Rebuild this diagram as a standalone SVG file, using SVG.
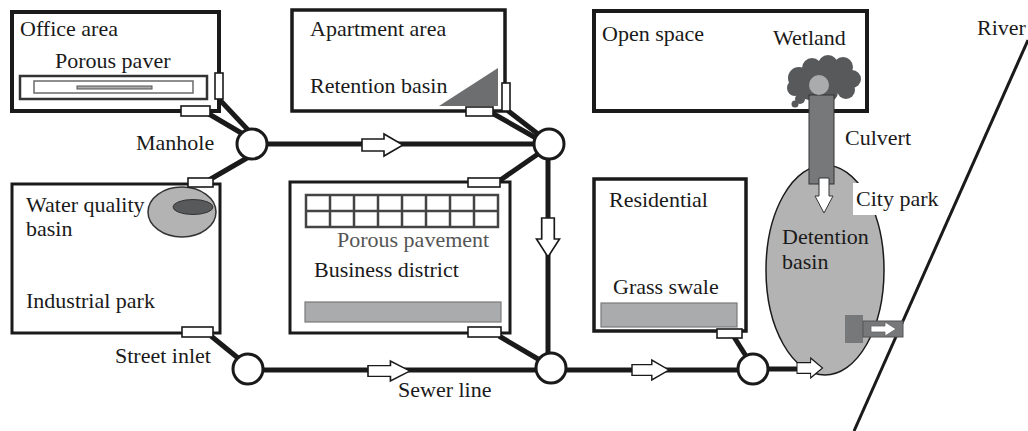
<svg xmlns="http://www.w3.org/2000/svg" width="1028" height="431" viewBox="0 0 1028 431">
  <style>
    text { font-family: "Liberation Serif", "DejaVu Serif", serif; font-size: 22px; fill: #1a1a1a; }
    .area { fill: none; stroke: #1a1a1a; }
    .inlet { fill: #ffffff; stroke: #1a1a1a; stroke-width: 1.6; }
    .pipe { stroke: #1a1a1a; stroke-width: 5; fill: none; stroke-linecap: butt; }
    .node { fill: #ffffff; stroke: #1a1a1a; stroke-width: 3; }
    .flow { fill: #ffffff; stroke: #1a1a1a; stroke-width: 1.6; stroke-linejoin: miter; }
    .pad { fill: #a9abad; stroke: #7a7a7a; stroke-width: 1.2; }
  </style>
  <defs>
    <!-- block arrow pointing right, origin at the tail centre -->
    <path id="flowArrow" d="M0,-6 H22 V-11 L41,0 L22,11 V6 H0 Z"/>
  </defs>
  <rect width="1028" height="431" fill="#ffffff"/>

  <!-- Office area -->
  <g id="office-area">
    <rect class="area" x="12" y="12" width="207" height="99" stroke-width="4"/>
    <text x="20" y="36">Office area</text>
    <text x="55" y="68">Porous paver</text>
    <rect x="20" y="76" width="187" height="23" fill="#ffffff" stroke="#333333" stroke-width="2.5"/>
    <rect x="34" y="81" width="159" height="12" fill="#ffffff" stroke="#6a6a6a" stroke-width="1.5"/>
    <rect x="77" y="86" width="75" height="3" fill="#a9abad" stroke="#555555" stroke-width="1"/>
  </g>

  <!-- Apartment area -->
  <g id="apartment-area">
    <rect class="area" x="292" y="10" width="213" height="101" stroke-width="3.5"/>
    <text x="310" y="36">Apartment area</text>
    <text x="310" y="93">Retention basin</text>
    <polygon points="439,106 498,68 498,106" fill="#6d6e70"/>
  </g>

  <!-- Open space with wetland -->
  <g id="open-space">
    <rect class="area" x="594" y="11" width="273" height="100" stroke-width="4"/>
    <text x="602" y="41">Open space</text>
    <text x="773" y="45">Wetland</text>
  </g>
  <g id="wetland" fill="#58595b">
    <ellipse cx="823" cy="80" rx="30" ry="15"/>
    <circle cx="799" cy="78" r="11"/>
    <circle cx="812" cy="68" r="10"/>
    <circle cx="828" cy="65" r="10"/>
    <circle cx="843" cy="67" r="10"/>
    <circle cx="852" cy="79" r="9"/>
    <circle cx="846" cy="90" r="9"/>
    <circle cx="828" cy="92" r="10"/>
    <circle cx="809" cy="90" r="10"/>
    <circle cx="795" cy="88" r="8"/>
    <circle cx="800" cy="99" r="5"/>
    <circle cx="795" cy="104" r="3.5"/>
  </g>

  <!-- Industrial park with water quality basin -->
  <g id="industrial-park">
    <rect class="area" x="12" y="184" width="208" height="149" stroke-width="3"/>
    <text x="26" y="212">Water quality</text>
    <text x="26" y="236">basin</text>
    <text x="26" y="308">Industrial park</text>
    <ellipse cx="182" cy="212" rx="34" ry="25" fill="#b3b3b3" stroke="#333333" stroke-width="1.5"/>
    <ellipse cx="193" cy="207" rx="20" ry="7.5" fill="#58595b" stroke="#333333" stroke-width="1"/>
  </g>

  <!-- Business district -->
  <g id="business-district">
    <rect class="area" x="290" y="182" width="220" height="151" stroke-width="3"/>
    <g fill="none" stroke="#444444" stroke-width="2.5">
      <rect x="306" y="195" width="192" height="32" fill="#ffffff"/>
      <path d="M306,211 H498 M330,195 V227 M354,195 V227 M378,195 V227 M402,195 V227 M426,195 V227 M450,195 V227 M474,195 V227"/>
    </g>
    <text x="337" y="247" style="fill:#555555">Porous pavement</text>
    <text x="314" y="277">Business district</text>
    <rect class="pad" x="305" y="302" width="196" height="20"/>
  </g>

  <!-- Residential -->
  <g id="residential">
    <rect class="area" x="594" y="179" width="152" height="152" stroke-width="3.5"/>
    <text x="609" y="207">Residential</text>
    <text x="613" y="294">Grass swale</text>
    <rect class="pad" x="601" y="303" width="136" height="24"/>
  </g>

  <!-- River -->
  <g id="river">
    <line x1="1028" y1="40" x2="854" y2="431" stroke="#1a1a1a" stroke-width="3"/>
    <text x="977" y="35">River</text>
  </g>

  <!-- City park with detention basin -->
  <g id="detention-basin">
    <ellipse cx="825" cy="270" rx="59" ry="105" fill="#b3b3b3" stroke="#1a1a1a" stroke-width="1.5"/>
    <rect x="853" y="183" width="88" height="32" fill="#ffffff"/>
    <text x="856" y="206">City park</text>
    <text x="782" y="244">Detention</text>
    <text x="782" y="269">basin</text>
    <rect x="845" y="315" width="18" height="28" fill="#77787a"/>
    <rect x="863" y="321" width="40" height="16" fill="#77787a" stroke="#555555" stroke-width="1"/>
    <path d="M871,326 H885 V322 L896,329 L885,336 V332 H871 Z" fill="#ffffff" stroke="#666666" stroke-width="0.8"/>
  </g>

  <!-- Culvert from the wetland -->
  <g id="culvert">
    <rect x="809" y="95" width="25" height="89" fill="#77787a" stroke="#333333" stroke-width="1"/>
    <ellipse cx="819" cy="85" rx="10" ry="10" fill="#a9abad"/>
    <path d="M819,178 H829 V196 H833 L824,213 L815,196 H819 Z" fill="#ffffff" stroke="#333333" stroke-width="1"/>
    <text x="845" y="145">Culvert</text>
  </g>

  <!-- Sewer connectors -->
  <g id="connectors">
    <path class="pipe" d="M219,99 L249,131"/>
    <path class="pipe" d="M209,114 L243,134"/>
    <path class="pipe" d="M247,158 L209,180"/>
    <path class="pipe" d="M267,144 L534,144"/>
    <path class="pipe" d="M507,110 L538,134"/>
    <path class="pipe" d="M492,113 L536,138"/>
    <path class="pipe" d="M499,181 L538,154"/>
    <path class="pipe" d="M548,159 L548,353"/>
    <path class="pipe" d="M499,336 L538,359"/>
    <path class="pipe" d="M211,336 L238,358"/>
    <path class="pipe" d="M263,370 L536,370"/>
    <path class="pipe" d="M566,370 L738,370"/>
    <path class="pipe" d="M734,337 L746,356"/>
    <path class="pipe" d="M768,369 L798,369"/>

    <use href="#flowArrow" class="flow" transform="translate(362,145)"/>
    <use href="#flowArrow" class="flow" transform="translate(548,218) rotate(90) scale(0.95,1.05)"/>
    <use href="#flowArrow" class="flow" transform="translate(368,371) scale(1.02,0.9)"/>
    <use href="#flowArrow" class="flow" transform="translate(632,370) scale(0.9,0.9)"/>
    <use href="#flowArrow" class="flow" transform="translate(797,368) scale(0.62,0.9)"/>
  </g>

  <!-- Inlets -->
  <g id="inlets">
    <rect class="inlet" x="215" y="73" width="8" height="26"/>
    <rect class="inlet" x="181" y="106" width="29" height="10"/>
    <rect class="inlet" x="188" y="178" width="25" height="9"/>
    <rect class="inlet" x="182" y="327" width="31" height="10"/>
    <rect class="inlet" x="502" y="83" width="8" height="28"/>
    <rect class="inlet" x="466" y="107" width="27" height="9"/>
    <rect class="inlet" x="468" y="178" width="32" height="9"/>
    <rect class="inlet" x="468" y="327" width="33" height="10"/>
    <rect class="inlet" x="717" y="329" width="25" height="9"/>
  </g>

  <!-- Manholes and junctions -->
  <g id="manhole">
    <circle class="node" cx="252" cy="144" r="15"/>
    <text x="136" y="150">Manhole</text>
  </g>
  <g id="junction-north">
    <circle class="node" cx="549" cy="144" r="15"/>
  </g>
  <g id="street-inlet">
    <circle class="node" cx="248" cy="369" r="15"/>
    <text x="115" y="363">Street inlet</text>
  </g>
  <g id="junction-south">
    <circle class="node" cx="551" cy="368" r="15"/>
    <text x="398" y="397">Sewer line</text>
  </g>
  <g id="junction-east">
    <circle class="node" cx="753" cy="369" r="15"/>
  </g>
</svg>
